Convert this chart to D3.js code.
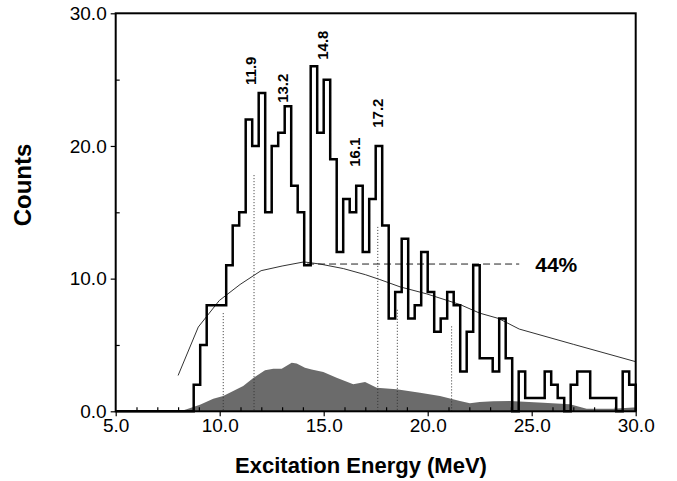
<!DOCTYPE html>
<html>
<head>
<meta charset="utf-8">
<script src="https://cdn.jsdelivr.net/npm/d3@7"></script>
<style>
  html, body { margin: 0; padding: 0; background: #fff; }
  svg { display: block; }
  text { font-family: "Liberation Sans", Arial, Helvetica, sans-serif; fill: #000; }
</style>
</head>
<body>
<svg id="chart" width="677" height="481"></svg>
<script>
// ---- data ----
const binStart = 8.75;          // MeV, left edge of first bin
const binWidth = 0.3125;        // MeV
const counts = [2,5,8,8,8,11,14,15,22,20,24,15,20,21,23,17,15,11,26,21,25,19,12,16,
                15,17,12,16,20,14,7,9,13,7,8,12,9,6,7,9,8,3,6,11,4,4,3,7,
                4,0,3,1,1,1,3,2,1,0,2,3,3,1,1,1,1,0,3,2];

const fitE = [8.0, 8.97, 9.98, 10.98, 11.99, 13.0, 14.05, 14.82, 15.94, 17.0, 17.7, 18.67, 19.95, 21.55, 22.5, 23.4, 24.4, 27.0, 30.0];
const fitC = [2.7, 6.35, 8.35, 9.56, 10.6, 10.95, 11.26, 11.1, 10.76, 10.3, 9.93, 9.38, 8.85, 8.05, 7.4, 7.0, 6.2, 5.05, 3.74];

const bgE = [8.1, 8.41, 9.05, 9.69, 10.17, 10.65, 11.13, 11.6, 12.18, 12.58, 12.98, 13.46, 13.7, 14.1, 14.42, 14.98, 15.62, 16.42, 16.99, 17.55, 18.5, 19.63, 20.59, 21.55, 22.03, 22.5, 23.15, 23.96, 25.56, 26.84, 27.64, 28.92, 29.88, 30.0];
const bgC = [0, 0.15, 0.5, 0.95, 1.15, 1.53, 1.9, 2.5, 3.1, 3.2, 3.2, 3.66, 3.6, 3.29, 3.16, 2.96, 2.53, 2.03, 2.2, 1.78, 1.66, 1.4, 1.15, 0.78, 0.6, 0.7, 0.75, 0.78, 0.65, 0.53, 0.2, 0.2, 0.28, 0.28];

const dropE = [10.17, 11.65, 17.6, 18.54, 21.15];
const dropTop = [7.4, 17.8, 13.9, 7.65, 6.4];

const peakLabels = ["11.9", "13.2", "14.8", "16.1", "17.2"];
const peakLabelE = [11.75, 13.28, 15.2, 16.74, 17.85];
const peakLabelC = [24.6, 23.25, 26.5, 18.43, 21.37];

const levelC = 11.1, levelFrom = 14.2, levelTo = 24.4;
const levelText = "44%";

const xTicks = [5, 10, 15, 20, 25, 30];
const xMinor = [6,7,8,9,11,12,13,14,16,17,18,19,21,22,23,24,26,27,28,29];
const yTicks = [0, 10, 20, 30];
const yMinor = [5, 15, 25];

// ---- layout ----
const svg = d3.select("#chart");
const m = { left: 115.7, right: 41.3, top: 13.3, bottom: 69.7 };
const W = 677, H = 481;
const x = d3.scaleLinear().domain([5, 30]).range([m.left, W - m.right]);
const y = d3.scaleLinear().domain([0, 30]).range([H - m.bottom, m.top]);

// background area
const bg = bgE.map((e, i) => [e, bgC[i]]);
svg.append("path")
  .attr("d", d3.area().x(d => x(d[0])).y0(y(0)).y1(d => y(d[1]))(bg))
  .attr("fill", "#6b6b6b");

// dotted drop lines
svg.append("g").selectAll("line").data(dropE).join("line")
  .attr("x1", d => x(d)).attr("x2", d => x(d))
  .attr("y1", (d, i) => y(dropTop[i])).attr("y2", y(0))
  .attr("stroke", "#333").attr("stroke-width", 1).attr("stroke-dasharray", "1,2");

// fit curve
const fit = fitE.map((e, i) => [e, fitC[i]]);
svg.append("path")
  .attr("d", d3.line().x(d => x(d[0])).y(d => y(d[1]))(fit))
  .attr("fill", "none").attr("stroke", "#333").attr("stroke-width", 1);

// dashed level line
svg.append("line")
  .attr("x1", x(levelFrom)).attr("x2", x(levelTo))
  .attr("y1", y(levelC)).attr("y2", y(levelC))
  .attr("stroke", "#222").attr("stroke-width", 1).attr("stroke-dasharray", "7,4");

// histogram
const pts = [[5, 0]];
counts.forEach((c, i) => pts.push([binStart + i * binWidth, c]));
pts.push([binStart + counts.length * binWidth, counts[counts.length - 1]]);
pts.push([binStart + counts.length * binWidth, 0]);
svg.append("path")
  .attr("d", d3.line().curve(d3.curveStepAfter).x(d => x(d[0])).y(d => y(d[1]))(pts))
  .attr("fill", "none").attr("stroke", "#000").attr("stroke-width", 2.5)
  .attr("stroke-linejoin", "miter");

// axes
const xa = svg.append("g").attr("transform", `translate(0,${y(0)})`)
  .call(d3.axisBottom(x).tickValues(xTicks).tickFormat(d3.format(".1f")).tickSize(5).tickPadding(2));
const xm = svg.append("g").attr("transform", `translate(0,${y(0)})`)
  .call(d3.axisBottom(x).tickValues(xMinor).tickFormat("").tickSize(-4));
const ya = svg.append("g").attr("transform", `translate(${x(5)},0)`)
  .call(d3.axisLeft(y).tickValues(yTicks).tickFormat(d3.format(".1f")).tickSize(5).tickPadding(4));
const ym = svg.append("g").attr("transform", `translate(${x(5)},0)`)
  .call(d3.axisLeft(y).tickValues(yMinor).tickFormat("").tickSize(-4));
[xa, xm, ya, ym].forEach(g => {
  g.select(".domain").remove();
  g.selectAll(".tick line").attr("stroke", "#000").attr("stroke-width", 1.2);
  g.selectAll("text").style("font-size", "19px").attr("fill", "#000");
});

// frame
svg.append("rect")
  .attr("x", x(5)).attr("y", y(30))
  .attr("width", x(30) - x(5)).attr("height", y(0) - y(30))
  .attr("fill", "none").attr("stroke", "#000").attr("stroke-width", 2);

// peak labels
peakLabels.forEach((t, i) => {
  svg.append("text")
    .attr("transform", `translate(${x(peakLabelE[i])},${y(peakLabelC[i])}) rotate(-90)`)
    .attr("text-anchor", "start")
    .style("font-size", "15px").style("font-weight", "bold")
    .text(t);
});

// level annotation
svg.append("text")
  .attr("x", x(levelTo) + 16).attr("y", y(levelC) + 7.5)
  .style("font-size", "21px").style("font-weight", "bold")
  .text(levelText);

// axis titles
svg.append("text")
  .attr("x", 361).attr("y", 473)
  .attr("text-anchor", "middle")
  .style("font-size", "22px").style("font-weight", "bold")
  .text("Excitation Energy (MeV)");
svg.append("text")
  .attr("transform", `translate(31,185) rotate(-90)`)
  .attr("text-anchor", "middle")
  .style("font-size", "24px").style("font-weight", "bold")
  .text("Counts");
</script>
</body>
</html>
